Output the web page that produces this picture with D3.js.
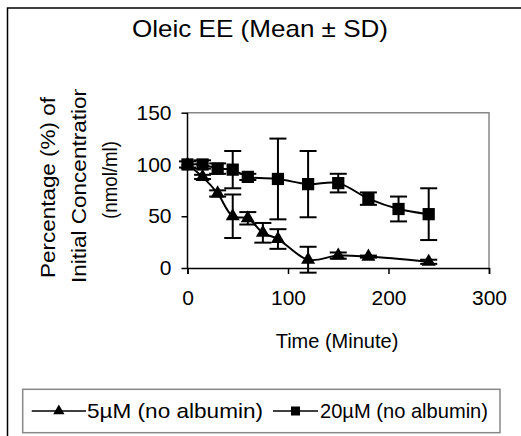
<!DOCTYPE html>
<html>
<head>
<meta charset="utf-8">
<script src="https://cdn.jsdelivr.net/npm/d3@7"></script>
<style>
  body { margin: 0; background: #fff; }
  svg text { font-family: "Liberation Sans", Arial, sans-serif; fill: #000; }
</style>
</head>
<body>
<div id="chart"></div>
<script>
// data
let times5 = [0, 15, 30, 45, 60, 75, 90, 120, 150, 180, 240];
let mean5  = [100, 88, 72, 50, 48, 34, 28, 8, 12, 11, 6];
let sd5    = [0, 2, 3, 21, 6, 9.5, 9.5, 12.5, 3, 1, 2];

let times20 = [0, 15, 30, 45, 60, 90, 120, 150, 180, 210, 240];
let mean20  = [100, 100, 96, 95, 88, 86, 81, 82, 67, 57, 52];
let sd20    = [3, 4, 5, 18, 3, 39, 32, 9, 6, 12, 25];

let xTicks = [0, 100, 200, 300];
let yTicks = [0, 50, 100, 150];
let seriesNames = ["5\u00b5M (no albumin)", "20\u00b5M (no albumin)"];

let width = 521, height = 436;
let plot = {left: 187.5, right: 489, top: 112.7, bottom: 268};

let svg = d3.select("#chart").append("svg")
    .attr("width", width)
    .attr("height", height);

// outer chart border (runs off the right and bottom)
svg.append("path")
    .attr("d", `M7.5,${height + 5} V8 H${width + 5}`)
    .attr("fill", "none")
    .attr("stroke", "#000")
    .attr("stroke-width", 1.5);

svg.append("text")
    .attr("x", 260)
    .attr("y", 37)
    .attr("text-anchor", "middle")
    .attr("textLength", 256)
    .attr("lengthAdjust", "spacingAndGlyphs")
    .style("font-size", "24px")
    .text("Oleic EE (Mean \u00b1 SD)");

let x = d3.scaleLinear().domain([0, 300]).range([plot.left, plot.right]);
let y = d3.scaleLinear().domain([0, 150]).range([plot.bottom, plot.top]);

// plot area frame (gray)
svg.append("path")
    .attr("d", `M${plot.left},${plot.top} H${plot.right} V${plot.bottom}`)
    .attr("fill", "none")
    .attr("stroke", "#888")
    .attr("stroke-width", 1.5);

let xAxis = d3.axisBottom(x).tickValues(xTicks).tickSize(6).tickPadding(16).tickSizeOuter(6);
let yAxis = d3.axisLeft(y).tickValues(yTicks).tickSize(6).tickPadding(10).tickSizeOuter(0);

let gx = svg.append("g")
    .attr("transform", `translate(0,${plot.bottom})`)
    .call(xAxis);
let gy = svg.append("g")
    .attr("transform", `translate(${plot.left},0)`)
    .call(yAxis);

[gx, gy].forEach(g => {
    g.selectAll("path, line").attr("stroke", "#000").attr("stroke-width", 1.5);
    g.selectAll("text").style("font-size", "21px").attr("fill", "#000");
});
gy.select(".domain").attr("d", `M0,${plot.top}V${plot.bottom}`);

svg.append("text")
    .attr("x", 337)
    .attr("y", 348)
    .attr("text-anchor", "middle")
    .style("font-size", "20px")
    .text("Time (Minute)");

// y axis title, three lines, second one clipped at the top like the original
svg.append("clipPath").attr("id", "ylabClip")
    .append("rect").attr("x", 0).attr("y", 89).attr("width", 180).attr("height", 300);

let yLines = [
    {text: "Percentage (%) of", bx: 55, cy: 187.5, len: 181, fs: 20},
    {text: "Initial Concentration", bx: 86, cy: 183.5, len: 199, fs: 20},
    {text: "(nmol/ml)", bx: 117, cy: 180, len: 78, fs: 20}
];
svg.append("g")
    .attr("clip-path", "url(#ylabClip)")
    .selectAll("text")
    .data(yLines)
    .join("text")
    .attr("transform", d => `translate(${d.bx},${d.cy}) rotate(-90)`)
    .attr("text-anchor", "middle")
    .attr("textLength", d => d.len)
    .attr("lengthAdjust", "spacingAndGlyphs")
    .style("font-size", d => d.fs + "px")
    .text(d => d.text);

let line = d3.line()
    .x(d => x(d.t))
    .y(d => y(d.m))
    .curve(d3.curveCatmullRom.alpha(0.5));

let data5 = times5.map((t, i) => ({t: t, m: mean5[i], sd: sd5[i]}));
let data20 = times20.map((t, i) => ({t: t, m: mean20[i], sd: sd20[i]}));

function drawSeries(data, symbol, size) {
    let g = svg.append("g");
    g.append("path")
        .datum(data)
        .attr("d", line)
        .attr("fill", "none")
        .attr("stroke", "#000")
        .attr("stroke-width", 2);

    let eb = g.selectAll(".eb")
        .data(data.filter(d => d.sd > 0))
        .join("g");
    eb.append("line")
        .attr("x1", d => x(d.t)).attr("x2", d => x(d.t))
        .attr("y1", d => y(d.m + d.sd)).attr("y2", d => y(d.m - d.sd));
    eb.append("line")
        .attr("x1", d => x(d.t) - 8.5).attr("x2", d => x(d.t) + 8.5)
        .attr("y1", d => y(d.m + d.sd)).attr("y2", d => y(d.m + d.sd));
    eb.append("line")
        .attr("x1", d => x(d.t) - 8.5).attr("x2", d => x(d.t) + 8.5)
        .attr("y1", d => y(d.m - d.sd)).attr("y2", d => y(d.m - d.sd));
    eb.selectAll("line").attr("stroke", "#000").attr("stroke-width", 2);

    g.selectAll(".mk")
        .data(data)
        .join("path")
        .attr("transform", d => `translate(${x(d.t)},${y(d.m)})`)
        .attr("d", d3.symbol().type(symbol).size(size))
        .attr("fill", "#000");
}

drawSeries(data5, d3.symbolTriangle, 85);
drawSeries(data20, d3.symbolSquare, 150);

// legend
let legend = svg.append("g");
legend.append("rect")
    .attr("x", 22.7).attr("y", 389.3)
    .attr("width", 477.3).attr("height", 43.4)
    .attr("fill", "#fff")
    .attr("stroke", "#888")
    .attr("stroke-width", 1.5);

let legendItems = [
    {name: seriesNames[0], symbol: d3.symbolTriangle, size: 55, x0: 31.7, x1: 86, tx: 87, len: 176},
    {name: seriesNames[1], symbol: d3.symbolSquare, size: 81, x0: 273, x1: 318, tx: 320, len: 168}
];
legendItems.forEach(it => {
    legend.append("line")
        .attr("x1", it.x0).attr("x2", it.x1)
        .attr("y1", 411).attr("y2", 411)
        .attr("stroke", "#000").attr("stroke-width", 1.5);
    legend.append("path")
        .attr("transform", `translate(${(it.x0 + it.x1) / 2},411)`)
        .attr("d", d3.symbol().type(it.symbol).size(it.size))
        .attr("fill", "#000");
    legend.append("text")
        .attr("x", it.tx).attr("y", 418)
        .attr("textLength", it.len)
        .attr("lengthAdjust", "spacingAndGlyphs")
        .style("font-size", "21px")
        .text(it.name);
});
</script>
</body>
</html>
